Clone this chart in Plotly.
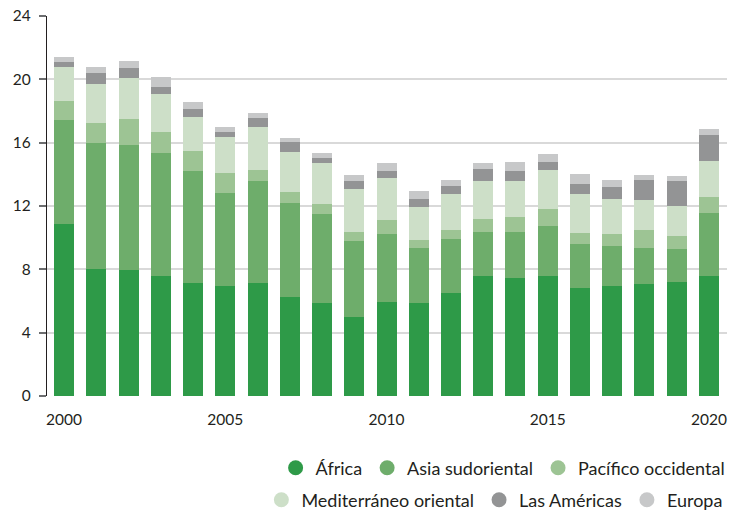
import plotly.graph_objects as go

years = list(range(2000, 2021))
africa =   [10.86, 8.02, 7.96, 7.58, 7.14, 6.95, 7.14, 6.25, 5.87, 4.99, 5.94, 5.87, 6.51, 7.58, 7.45, 7.58, 6.82, 6.95, 7.07, 7.20, 7.58]
asia_se =  [6.57, 7.96, 7.89, 7.77, 7.07, 5.87, 6.44, 5.94, 5.62, 4.80, 4.29, 3.48, 3.41, 2.78, 2.91, 3.16, 2.78, 2.52, 2.28, 2.08, 3.98]
pacific =  [1.20, 1.26, 1.64, 1.32, 1.26, 1.26, 0.69, 0.69, 0.64, 0.57, 0.89, 0.50, 0.56, 0.82, 0.95, 1.07, 0.69, 0.76, 1.13, 0.83, 1.01]
medit =    [2.15, 2.47, 2.59, 2.40, 2.15, 2.28, 2.72, 2.53, 2.59, 2.71, 2.65, 2.09, 2.28, 2.40, 2.27, 2.46, 2.47, 2.21, 1.90, 1.89, 2.27]
americas = [0.31, 0.69, 0.64, 0.45, 0.51, 0.31, 0.57, 0.63, 0.31, 0.51, 0.44, 0.50, 0.50, 0.76, 0.63, 0.51, 0.63, 0.76, 1.26, 1.58, 1.64]
europe =   [0.32, 0.38, 0.44, 0.63, 0.44, 0.32, 0.31, 0.25, 0.32, 0.38, 0.51, 0.51, 0.38, 0.38, 0.57, 0.50, 0.63, 0.44, 0.32, 0.31, 0.38]

names = ["África", "Asia sudoriental", "Pacífico occidental",
         "Mediterráneo oriental", "Las Américas", "Europa"]
series = [africa, asia_se, pacific, medit, americas, europe]
colors = ["#2E9A48", "#6EAD6B", "#9DC494", "#CDDFC8", "#939495", "#C7C8C9"]
legend_ids = ["legend", "legend", "legend", "legend2", "legend2", "legend2"]

y_ticks = [0, 4, 8, 12, 16, 20, 24]
x_ticks = [2000, 2005, 2010, 2015, 2020]

FONT = "Lato"
TXT = "#231F20"

fig = go.Figure()
for name, vals, col in zip(names, series, colors):
    fig.add_trace(go.Bar(x=years, y=vals, name=name, marker=dict(color=col, line=dict(width=0)),
                         showlegend=False))
# legend entries with circle markers
for name, col, lg in zip(names, colors, legend_ids):
    fig.add_trace(go.Scatter(x=[None], y=[None], mode="markers", name=name,
                             marker=dict(symbol="circle", size=15, color=col),
                             showlegend=True, legend=lg))

leg_common = dict(orientation="h", xanchor="right", yanchor="middle",
                  xref="container", yref="container",
                  font=dict(family=FONT, size=18, color=TXT), itemwidth=30,
                  bgcolor="rgba(0,0,0,0)", traceorder="normal", tracegroupgap=0)

fig.update_layout(
    width=744, height=512,
    margin=dict(l=47, r=17, t=16, b=116, autoexpand=False),
    barmode="stack", bargap=0.38,
    plot_bgcolor="white", paper_bgcolor="white",
    font=dict(family=FONT, size=15, color=TXT),
    xaxis=dict(range=[1999.47, 2020.56], tickvals=x_ticks, ticktext=[str(t) for t in x_ticks],
               showgrid=False, zeroline=False, showline=False, ticks="", automargin=False,
               ticklabelstandoff=12, tickfont=dict(size=15.5, color=TXT)),
    yaxis=dict(range=[0, 24], tickvals=y_ticks, ticktext=[str(t) for t in y_ticks],
               showgrid=True, gridcolor="#D9D9D9", gridwidth=1.5, automargin=False,
               zeroline=False, showline=True, linecolor="#231F20", linewidth=1.2,
               ticks="outside", ticklen=7, tickcolor="#6D6E70", tickwidth=1.5,
               ticklabelstandoff=5, tickfont=dict(size=15.5, color=TXT)),
    legend=dict(x=0.982, y=1 - 468 / 512, **leg_common),
    legend2=dict(x=0.979, y=1 - 500 / 512, **leg_common),
)

fig.write_html("out.html", config={"displayModeBar": False},
               post_script="document.body.style.margin='0';document.body.style.overflow='hidden';")
